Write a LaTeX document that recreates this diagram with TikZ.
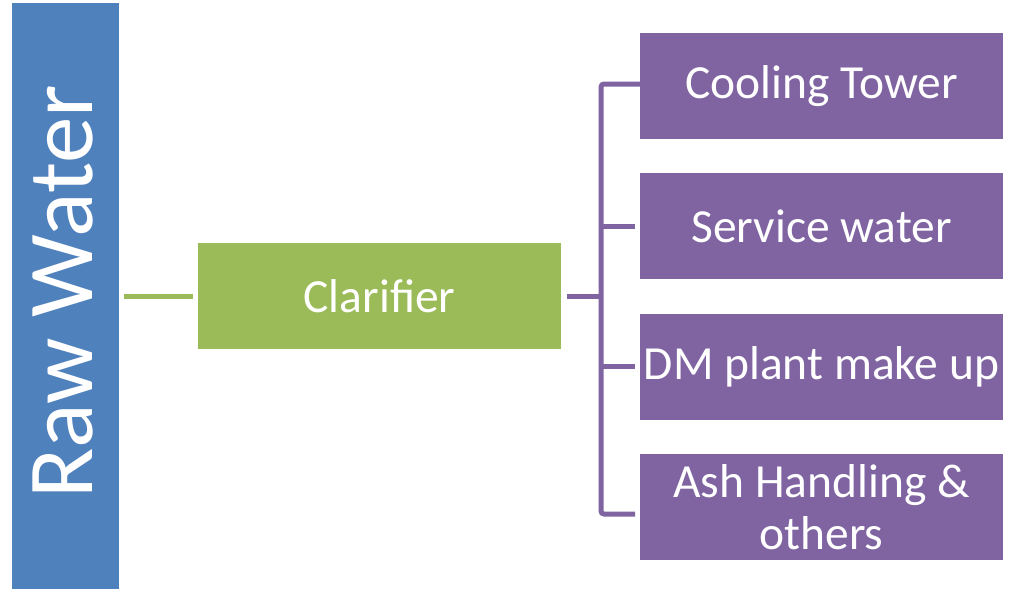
\documentclass[tikz,border=0pt]{standalone}
\usepackage{fontspec}
\setmainfont{Carlito}
\definecolor{rwblue}{HTML}{4F81BD}
\definecolor{clgreen}{HTML}{9BBB59}
\definecolor{dpurple}{HTML}{8064A2}
\begin{document}
\begin{tikzpicture}[x=1pt,y=-1pt,
  box/.style={draw=none,text=white,inner sep=0pt,outer sep=0pt,align=center,
    font=\fontsize{47.5}{52}\selectfont},
  pbox/.style={box,fill=dpurple,minimum width=363pt,minimum height=106pt},
  gline/.style={draw=clgreen,line width=5pt},
  pline/.style={draw=dpurple,line width=5pt}]
\useasboundingbox (0,0) rectangle (1017,589);
\node[box,fill=rwblue,minimum width=107pt,minimum height=586pt] (raw) at (65.5,296) {};
\node[box,rotate=90,font=\fontsize{93}{100}\selectfont] (rawt) at (63,292) {Raw Water};
\node[box,fill=clgreen,minimum width=363pt,minimum height=106pt] (clar) at (379.5,296) {Clarifier};
\node[pbox] (p1) at (821.5,86) {Cooling Tower};
\node[pbox] (p2) at (821.5,226) {Service water};
\node[pbox] (p3) at (821.5,367) {DM plant make up};
\node[pbox] (p4) at (821.5,507) {Ash Handling \&\\others};
\draw[gline,shorten <=5pt,shorten >=5pt] (raw.east |- clar.west) -- (clar.west);
\coordinate (b1) at (601,84);
\coordinate (b2) at (601,226);
\coordinate (b3) at (601,366);
\coordinate (b4) at (601,514);
\coordinate (bm) at (601,296);
\draw[pline,shorten <=6pt] (clar.east) -- (bm);
\draw[pline,rounded corners=3pt,shorten <=-2pt,shorten >=5pt] (p1.west |- b1) -- (b1) -- (b4) -- (p4.west |- b4);
\draw[pline,shorten >=5pt] (b2) -- (p2.west);
\draw[pline,shorten >=5pt] (b3) -- (p3.west |- b3);
\end{tikzpicture}
\end{document}
